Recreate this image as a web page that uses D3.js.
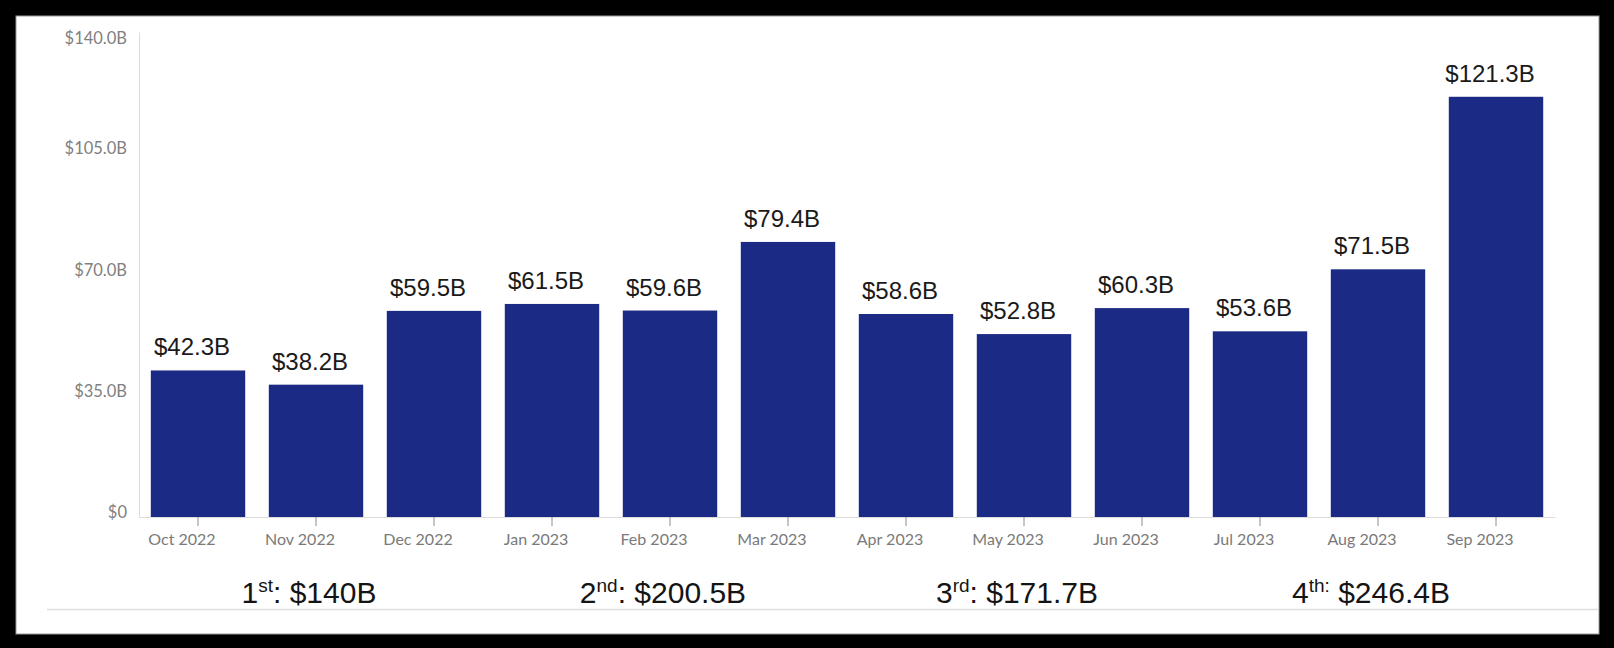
<!DOCTYPE html>
<html>
<head>
<meta charset="utf-8">
<script src="https://cdn.jsdelivr.net/npm/d3@7"></script>
<style>
	html, body { margin: 0; padding: 0; background: #000; }
	svg { display: block; }
</style>
</head>
<body>
<script>
const months = ["Oct 2022", "Nov 2022", "Dec 2022", "Jan 2023", "Feb 2023", "Mar 2023",
	"Apr 2023", "May 2023", "Jun 2023", "Jul 2023", "Aug 2023", "Sep 2023"];
const values = [42.3, 38.2, 59.5, 61.5, 59.6, 79.4, 58.6, 52.8, 60.3, 53.6, 71.5, 121.3];
const yTicks = [0, 35, 70, 105, 140];

const quarterNums = ["1", "2", "3", "4"];
const quarterSup = ["st", "nd", "rd", "th:"];
const quarterRest = [": $140B", ": $200.5B", ": $171.7B", " $246.4B"];
const quarterMid = ["Nov 2022", "Feb 2023", "May 2023", "Aug 2023"];

const width = 1614, height = 648;

const svg = d3.select("body").append("svg")
	.attr("width", width)
	.attr("height", height);

// white card on black
svg.append("rect")
	.attr("x", 16).attr("y", 16)
	.attr("width", 1583).attr("height", 618)
	.attr("fill", "#fff")
	.attr("stroke", "#9a9a9a")
	.attr("stroke-width", 1);

const x = d3.scaleBand()
	.domain(months)
	.range([139, 1555])
	.paddingInner(0.2)
	.paddingOuter(0.1);

const y = d3.scaleLinear()
	.domain([0, 140])
	.range([517, 32]);

// y axis
const yAxis = svg.append("g")
	.attr("transform", `translate(${x.range()[0]},0)`)
	.call(d3.axisLeft(y).tickValues(yTicks).tickSize(0).tickPadding(12)
		.tickFormat(d => d === 0 ? "$0" : "$" + d.toFixed(1) + "B"));
yAxis.select(".domain").attr("stroke", "#dcdcdc");
yAxis.selectAll("text")
	.attr("font-family", "Lato, sans-serif")
	.attr("font-size", 16.5)
	.attr("fill", "#808080")
	.attr("dy", d => (Math.max(y(d) - 5, y.range()[1] + 6) - y(d)) + 5.5 + "px");

// bars
svg.append("g").selectAll("rect")
	.data(values)
	.join("rect")
	.attr("x", (d, i) => x(months[i]))
	.attr("y", d => y(d))
	.attr("width", x.bandwidth())
	.attr("height", d => y(0) - y(d))
	.attr("fill", "#1b2a84");

// x axis
const xAxis = svg.append("g")
	.attr("transform", `translate(0,${y(0)})`)
	.call(d3.axisBottom(x).tickSize(9).tickSizeOuter(0).tickPadding(8));
xAxis.select(".domain").attr("stroke", "#dcdcdc");
xAxis.selectAll(".tick line").attr("stroke", "#8c8c8c");
xAxis.selectAll("text")
	.attr("dx", -16)
	.attr("font-family", "Lato, sans-serif")
	.attr("font-size", 16)
	.attr("fill", "#7a7a7a");

// value labels
svg.append("g").selectAll("text")
	.data(values)
	.join("text")
	.attr("x", (d, i) => x(months[i]) + x.bandwidth() / 2 - 6)
	.attr("y", d => y(d) - 15)
	.attr("text-anchor", "middle")
	.attr("font-family", "Liberation Sans, Arial, sans-serif")
	.attr("font-size", 24)
	.attr("fill", "#1a1a1a")
	.text(d => "$" + d.toFixed(1) + "B");

// quarter totals
const q = svg.append("g").selectAll("text")
	.data(quarterNums)
	.join("text")
	.attr("x", (d, i) => x(quarterMid[i]) + x.bandwidth() / 2 - 7)
	.attr("y", 603)
	.attr("text-anchor", "middle")
	.attr("font-family", "Liberation Sans, Arial, sans-serif")
	.attr("font-size", 30)
	.attr("fill", "#141414");
q.append("tspan").text(d => d);
q.append("tspan")
	.attr("font-size", 19)
	.attr("dy", -11)
	.text((d, i) => quarterSup[i]);
q.append("tspan")
	.attr("dy", 11)
	.text((d, i) => quarterRest[i]);

// bottom rule
svg.append("line")
	.attr("x1", 47).attr("x2", 1598)
	.attr("y1", 609.5).attr("y2", 609.5)
	.attr("stroke", "#dedede")
	.attr("stroke-width", 1.5);
</script>
</body>
</html>
